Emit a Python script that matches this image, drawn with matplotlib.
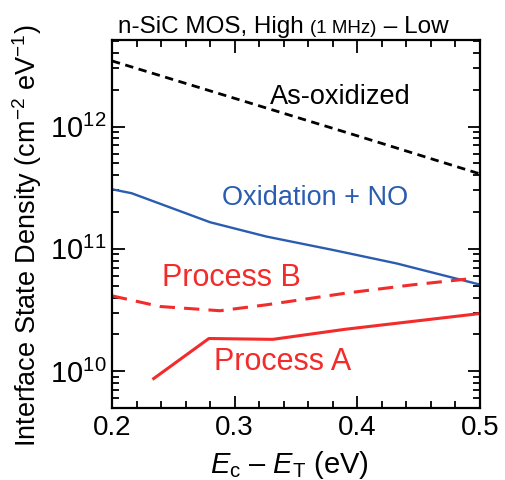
import matplotlib
matplotlib.use("Agg")
import matplotlib.pyplot as plt
from matplotlib.ticker import MultipleLocator, LogLocator, LogFormatterSciNotation

plt.rcParams['font.family'] = ['Liberation Sans', 'DejaVu Sans']
plt.rcParams['mathtext.fontset'] = 'custom'
plt.rcParams['mathtext.rm'] = 'Liberation Sans'
plt.rcParams['mathtext.it'] = 'Liberation Sans:italic'
plt.rcParams['mathtext.default'] = 'regular'

# Daten
x_asox = [0.2, 0.3, 0.4, 0.5]
y_asox = [3.44e12, 1.70e12, 8.4e11, 4.1e11]

x_no = [0.2, 0.216, 0.28, 0.326, 0.38, 0.432, 0.5]
y_no = [3.07e11, 2.85e11, 1.65e11, 1.26e11, 9.8e10, 7.6e10, 5.1e10]

x_b = [0.2, 0.239, 0.288, 0.326, 0.391, 0.445, 0.492]
y_b = [4.13e10, 3.38e10, 3.12e10, 3.49e10, 4.35e10, 5.08e10, 5.7e10]

x_a = [0.234, 0.279, 0.331, 0.39, 0.5]
y_a = [8.7e9, 1.85e10, 1.82e10, 2.2e10, 2.96e10]

ROT = '#f22b2b'
BLAU = '#2a5cb0'

fig = plt.figure(figsize=(5.06, 4.8), dpi=100)
ax = fig.add_axes([0.2213, 0.15, 0.7273, 0.7667])

ax.plot(x_asox, y_asox, color='black', linewidth=2.0, linestyle=(0, (3, 2)))
ax.plot(x_no, y_no, color=BLAU, linewidth=1.7)
ax.plot(x_b, y_b, color=ROT, linewidth=2.2, linestyle=(0, (5, 3)))
ax.plot(x_a, y_a, color=ROT, linewidth=2.2)

ax.set_yscale('log')
ax.set_xlim(0.2, 0.5)
ax.set_ylim(5e9, 5.1e12)

ax.xaxis.set_major_locator(MultipleLocator(0.1))
ax.xaxis.set_minor_locator(MultipleLocator(0.02))
ax.yaxis.set_major_locator(LogLocator(base=10, numticks=10))
ax.yaxis.set_minor_locator(LogLocator(base=10, subs=range(2, 10), numticks=20))
ax.yaxis.set_major_formatter(LogFormatterSciNotation())

ax.tick_params(which='both', direction='in', top=True, right=True,
               width=1.3, labelsize=20)
ax.tick_params(which='major', length=9)
ax.tick_params(which='minor', length=5)
ax.tick_params(axis='x', which='major', pad=5)
ax.tick_params(axis='y', which='major', pad=4, labelsize=21)
for s in ax.spines.values():
    s.set_linewidth(1.6)

ax.set_xlabel(r'$\mathit{E}_{\rm c}$ – $\mathit{E}_{\rm T}$ (eV)', fontsize=21, va='center')
ax.xaxis.set_label_coords(0.481, -0.155)
ax.set_ylabel(r'Interface State Density (cm$^{-2}$ eV$^{-1}$)', fontsize=19.5, va='center')
ax.yaxis.set_label_coords(-0.231, 0.467)

# Beschriftungen
ax.text(0.386, 1.75e12, 'As-oxidized', fontsize=19.5, ha='center', va='center')
ax.text(0.3655, 2.6e11, 'Oxidation + NO', fontsize=19.5, ha='center', va='center', color=BLAU)
ax.text(0.2976, 5.8e10, 'Process B', fontsize=22, ha='center', va='center', color=ROT)
ax.text(0.339, 1.19e10, 'Process A', fontsize=22, ha='center', va='center', color=ROT)

# Titel in Teilen, gemeinsame Grundlinie
basis_y = 1 - 33 / 480
x_pos = 118 / 506
renderer = fig.canvas.get_renderer()
for teil, groesse in [('n-SiC MOS, High ', 17.5), ('(1 MHz)', 13.5), (' – Low', 17.5)]:
    t = fig.text(x_pos, basis_y, teil, fontsize=groesse, va='baseline', ha='left')
    breite = t.get_window_extent(renderer).width
    x_pos += breite / fig.bbox.width

fig.savefig('out.png', dpi=100)
